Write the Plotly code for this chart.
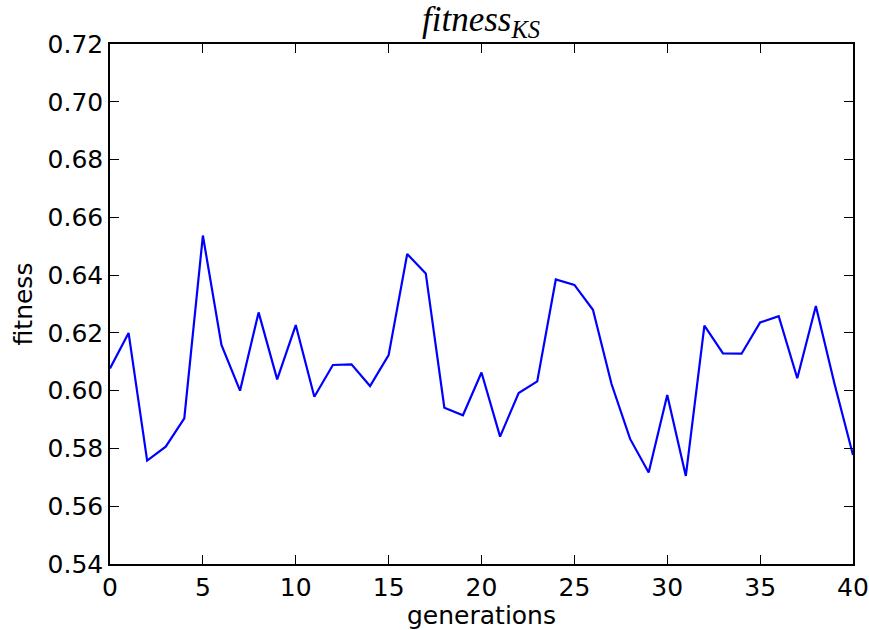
import plotly.graph_objects as go

generations = list(range(41))
fitness = [0.6077, 0.6200, 0.5758, 0.5806, 0.5904, 0.6537, 0.6158, 0.6000, 0.6271, 0.6039,
           0.6227, 0.5979, 0.6089, 0.6091, 0.6016, 0.6123, 0.6473, 0.6406, 0.5941, 0.5915,
           0.6063, 0.5841, 0.5992, 0.6032, 0.6385, 0.6366, 0.6280, 0.6023, 0.5833, 0.5717,
           0.5985, 0.5705, 0.6225, 0.6129, 0.6128, 0.6236, 0.6258, 0.6043, 0.6293, 0.6025,
           0.5777]

x_ticks = [0, 5, 10, 15, 20, 25, 30, 35, 40]
y_ticks = [0.54, 0.56, 0.58, 0.60, 0.62, 0.64, 0.66, 0.68, 0.70, 0.72]
y_tick_labels = ["%.2f" % v for v in y_ticks]

font_family = "DejaVu Sans"

fig = go.Figure()
fig.add_trace(go.Scatter(x=generations, y=fitness, mode="lines",
                         line=dict(color="#0000ff", width=2.2), showlegend=False))

axis_common = dict(showline=True, linecolor="black", linewidth=1.5, mirror="allticks",
                   ticks="inside", ticklen=9, tickwidth=1.2, tickcolor="black",
                   showgrid=False, zeroline=False, automargin=False,
                   tickfont=dict(family=font_family, size=25, color="black"))

fig.update_layout(
    width=869, height=630,
    margin=dict(l=110, r=16, t=44, b=66),
    plot_bgcolor="white", paper_bgcolor="white",
    title=dict(text="<i>fitness</i><sub><i>KS</i></sub>",
               font=dict(family="Liberation Serif", size=35, color="black"),
               x=0.5535, xanchor="center", y=0.99, yanchor="top"),
    xaxis=dict(range=[0, 40], tickvals=x_ticks, ticktext=[str(v) for v in x_ticks],
               title=dict(text="generations", font=dict(family=font_family, size=25, color="black"),
                          standoff=0),
               **axis_common),
    yaxis=dict(range=[0.54, 0.72], tickvals=y_ticks, ticktext=y_tick_labels,
               title=dict(text="fitness", font=dict(family=font_family, size=25, color="black"),
                          standoff=8),
               **axis_common),
)

fig.write_html("out.html")
